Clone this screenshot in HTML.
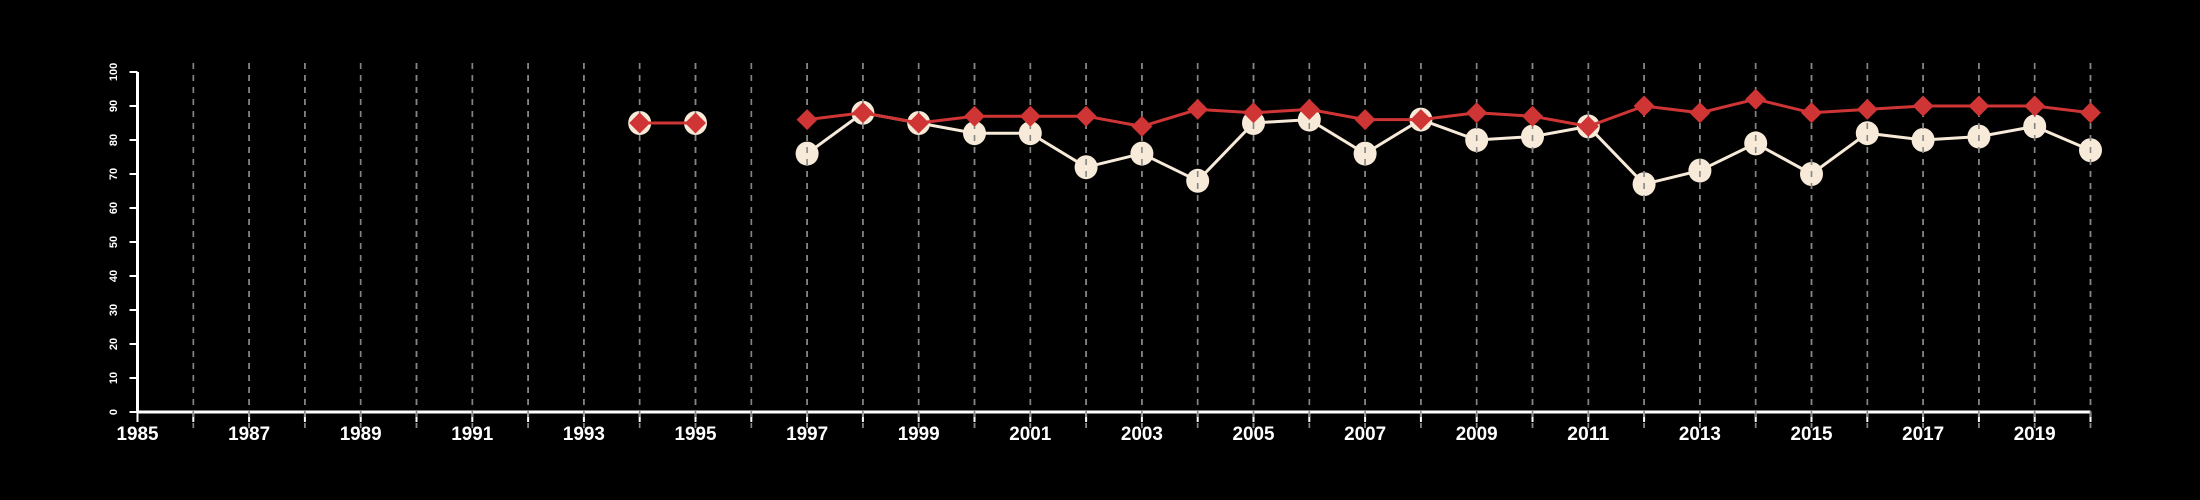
<!DOCTYPE html>
<html><head><meta charset="utf-8"><style>
html,body{margin:0;padding:0;background:#000;}
svg{display:block;}
text{font-family:"Liberation Sans Narrow","Liberation Sans",sans-serif;font-weight:bold;fill:#fff;}
</style></head><body>
<svg id="chart" width="2200" height="500" viewBox="0 0 2200 500" xmlns="http://www.w3.org/2000/svg">
<rect width="2200" height="500" fill="#000"/>
<g id="grid"></g>
<g id="axes"></g>
<g id="white"></g>
<g id="grid2"></g>
<g id="red"></g>
</svg>
<script>
const years = [1994,1995,1996,1997,1998,1999,2000,2001,2002,2003,2004,2005,2006,2007,2008,2009,2010,2011,2012,2013,2014,2015,2016,2017,2018,2019,2020];
const redValues = [85,85,null,86,88,85,87,87,87,84,89,88,89,86,86,88,87,84,90,88,92,88,89,90,90,90,88];
const whiteValues = [85,85,null,76,88,85,82,82,72,76,68,85,86,76,86,80,81,84,67,71,79,70,82,80,81,84,77];
const yTicks = [0,10,20,30,40,50,60,70,80,90,100];
const xMin = 1985, xMax = 2020;

const NS = "http://www.w3.org/2000/svg";
const X0 = 137.5, X1 = 2090.5, Y0 = 412, Y1 = 72;
function xs(v){return X0 + (v - xMin) / (xMax - xMin) * (X1 - X0);}
function ys(v){return Y0 - v / 100 * (Y0 - Y1);}
function mk(tag, attrs, parent){const e=document.createElementNS(NS,tag);for(const k in attrs)e.setAttribute(k,attrs[k]);parent.appendChild(e);return e;}

const grid = document.getElementById('grid');
const grid2 = document.getElementById('grid2');
const axes = document.getElementById('axes');
for(let y = xMin + 1; y <= xMax; y++){
  for (const g of [grid, grid2]) {
    const l = mk('line',{x1:xs(y),x2:xs(y),y1:63,y2:428,stroke:'#858585','stroke-width':1.6,'stroke-dasharray':'6 6'},g);
    
    
  }
}
let a = mk('line',{x1:X0,x2:X0,y1:Y1,y2:Y0,stroke:'#fff','stroke-width':3},axes);


a = mk('line',{x1:X0,x2:X1,y1:Y0,y2:Y0,stroke:'#fff','stroke-width':3},axes);


for(const t of yTicks){
  const l = mk('line',{x1:X0-8,x2:X0,y1:ys(t),y2:ys(t),stroke:'#fff','stroke-width':2},axes);
  
  
  const tx = mk('text',{x:0,y:0,'font-size':11,'text-anchor':'middle',transform:`translate(117,${ys(t)}) rotate(-90)`},axes);
  
  
  tx.textContent = t;
}
for(let y = xMin; y <= xMax; y++){
  const l = mk('line',{x1:xs(y),x2:xs(y),y1:Y0,y2:Y0+10,stroke:'#fff','stroke-width':2},axes);
  
  
  if((y - xMin) % 2 === 0 && y < xMax){
    const tx = mk('text',{x:xs(y)-21,y:440,'font-size':19,textLength:42,lengthAdjust:'spacingAndGlyphs'},axes);
    
    
    tx.textContent = y;
  }
}
function segs(vals){
  const out=[];let cur=[];
  vals.forEach((v,i)=>{if(v==null){if(cur.length)out.push(cur);cur=[];}else cur.push([xs(years[i]),ys(v)]);});
  if(cur.length)out.push(cur);return out;
}
const white = document.getElementById('white');
for(const s of segs(whiteValues)){
  const p = mk('polyline',{points:s.map(p=>p.join(',')).join(' '),fill:'none',stroke:'#f7ead8','stroke-width':3},white);
  
  
}
whiteValues.forEach((v,i)=>{ if(v==null)return;
  const c = mk('ellipse',{cx:xs(years[i]),cy:ys(v),rx:11.5,ry:12,fill:'#f7ead8'},white);
  
  
});
const red = document.getElementById('red');
for(const s of segs(redValues)){
  const p = mk('polyline',{points:s.map(p=>p.join(',')).join(' '),fill:'none',stroke:'#d03535','stroke-width':3},red);
  
  
}
redValues.forEach((v,i)=>{ if(v==null)return;
  const x=xs(years[i]), y=ys(v), h=10.5;
  const d = mk('polygon',{points:`${x},${y-h} ${x+h},${y} ${x},${y+h} ${x-h},${y}`,fill:'#d03535'},red);
  
  
});
</script>
</body></html>
